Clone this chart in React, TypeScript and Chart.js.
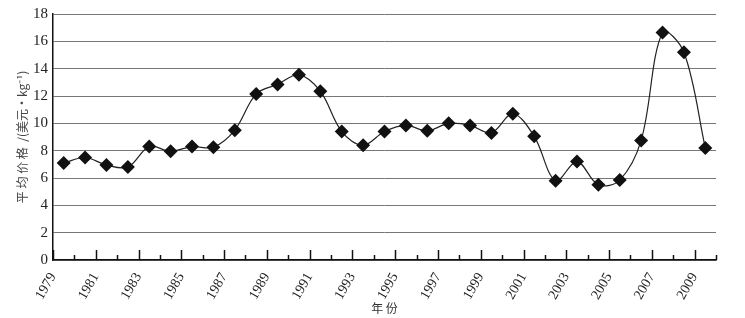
import React, { useEffect, useRef } from "react";
import { Chart, registerables } from "chart.js";

Chart.register(...registerables);

const years: number[] = [
  1979, 1980, 1981, 1982, 1983, 1984, 1985, 1986, 1987, 1988, 1989, 1990, 1991, 1992, 1993, 1994,
  1995, 1996, 1997, 1998, 1999, 2000, 2001, 2002, 2003, 2004, 2005, 2006, 2007, 2008, 2009,
];
const prices: number[] = [
  7.1, 7.5, 6.95, 6.8, 8.3, 7.95, 8.3, 8.25, 9.5, 12.15, 12.85, 13.55, 12.35, 9.4, 8.4, 9.4,
  9.85, 9.45, 10.0, 9.85, 9.3, 10.7, 9.05, 5.8, 7.2, 5.5, 5.85, 8.75, 16.65, 15.2, 8.2,
];
const yTicksMax = 18;
const yStep = 2;
const xTitle = "年 份";
const yTitle = "平 均 价 格  /(美元·kg⁻¹)";

const serif = "'Liberation Serif', 'Times New Roman', serif";
const cjk = "'Noto Sans CJK SC', sans-serif";

const tickMarks = {
  id: "tickMarks",
  afterDatasetsDraw(chart: any) {
    const xs = chart.scales.x;
    const bottom = chart.chartArea.bottom;
    const ctx = chart.ctx;
    ctx.save();
    ctx.strokeStyle = "#111";
    ctx.lineWidth = 1.5;
    for (let yr = 1979; yr <= 2010; yr++) {
      const px = Math.round(xs.getPixelForValue(yr)) + 0.5;
      const len = yr % 2 === 1 ? 10 : 5;
      ctx.beginPath();
      ctx.moveTo(px, bottom);
      ctx.lineTo(px, bottom - len);
      ctx.stroke();
    }
    ctx.restore();
  },
};

export default function App() {
  const ref = useRef<HTMLCanvasElement>(null);
  useEffect(() => {
    document.body.style.margin = "0";
    let chart: any = null;
    let cancelled = false;
    const build = () => {
      if (cancelled || !ref.current) return;
      const data = years.map((yr, i) => ({ x: yr + 0.5, y: prices[i] }));
      chart = new Chart(ref.current as HTMLCanvasElement, {
        type: "line",
        data: {
          datasets: [
            {
              data,
              borderColor: "#222",
              borderWidth: 1.2,
              tension: 0.35,
              pointStyle: "rectRot",
              pointRadius: 7,
              pointBackgroundColor: "#111",
              pointBorderColor: "#111",
              pointBorderWidth: 0,
            },
          ],
        },
        options: {
          animation: false,
          responsive: false,
          layout: { padding: { top: 8, right: 29, left: 0, bottom: 0 } },
          plugins: { legend: { display: false }, tooltip: { enabled: false } },
          scales: {
            x: {
              type: "linear",
              min: 1979,
              max: 2010,
              grid: { display: false },
              border: { display: true, color: "#111", width: 1.5 },
              afterFit: (s: any) => {
                s.height = 58;
              },
              ticks: {
                stepSize: 1,
                autoSkip: false,
                maxRotation: 60,
                minRotation: 60,
                padding: 2,
                color: "#222",
                font: { family: serif, size: 14 },
                callback: (v: any) => (v % 2 === 1 && v <= 2009 ? String(v) : ""),
              },
              title: {
                display: true,
                text: xTitle,
                color: "#333",
                padding: { top: 0, bottom: 2 },
                font: { family: cjk, size: 12 },
              },
            },
            y: {
              min: 0,
              max: yTicksMax,
              grid: { color: "#777", lineWidth: 1, drawTicks: false },
              border: { display: true, color: "#111", width: 1.5 },
              afterFit: (s: any) => {
                s.width = 53;
              },
              ticks: {
                stepSize: yStep,
                padding: 5,
                color: "#222",
                font: { family: serif, size: 15 },
              },
              title: {
                display: true,
                text: yTitle,
                color: "#444",
                padding: { top: 15, bottom: 0 },
                font: { family: cjk, size: 12 },
              },
            },
          },
        },
        plugins: [tickMarks],
      });
    };
    const fonts: any = (document as any).fonts;
    if (fonts && fonts.load) {
      Promise.all([
        fonts.load("13px 'Liberation Serif'"),
        fonts.load("12px 'Noto Sans CJK SC'", "年份平均价格美元"),
      ])
        .catch(() => null)
        .then(build);
    } else {
      build();
    }
    return () => {
      cancelled = true;
      if (chart) chart.destroy();
    };
  }, []);
  return <canvas ref={ref} width={745} height={318} style={{ display: "block" }} />;
}
